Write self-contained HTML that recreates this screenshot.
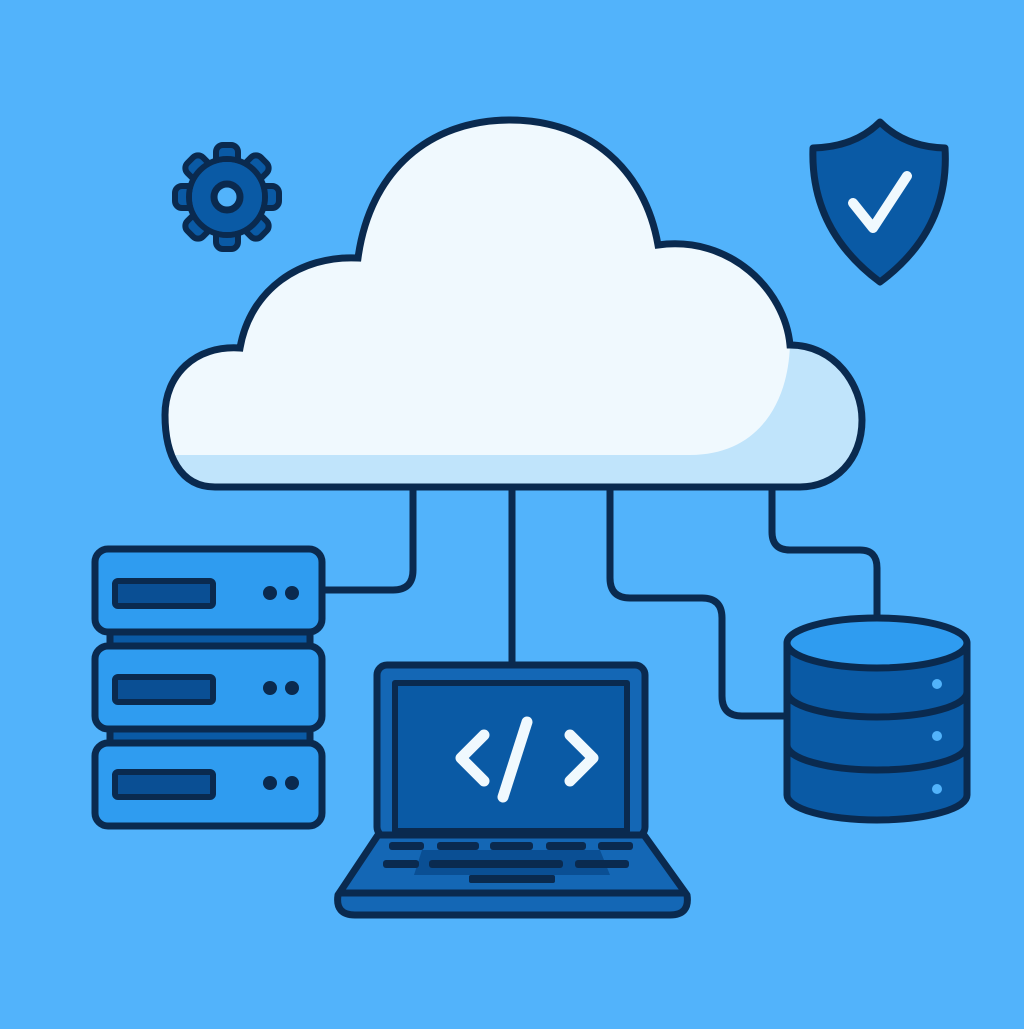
<!DOCTYPE html>
<html><head><meta charset="utf-8"><style>html,body{margin:0;padding:0;background:#52b3fb}</style></head>
<body>
<svg width="1024" height="1024" viewBox="0 0 1024 1024" xmlns="http://www.w3.org/2000/svg">
<rect width="1024" height="1024" fill="#52b3fb"/>
<defs>
<clipPath id="cc"><path id="cp" d="M215,487 C180,487 165,455 165,415 C165,375 195,345 240,348 C250,290 300,255 358,258 C370,170 430,120 510,120 C590,120 645,170 658,245 C730,235 785,290 790,345 C835,345 862,385 862,420 C862,460 835,487 800,487 Z"/></clipPath>
</defs>
<g fill="none" stroke="#0a2a4f" stroke-width="7" stroke-linecap="round" stroke-linejoin="round">
<path d="M413,487 V570 Q413,590 393,590 H322"/>
<path d="M512,487 V665"/>
<path d="M610,487 V578 Q610,598 630,598 H702 Q722,598 722,618 V696 Q722,716 742,716 H787"/>
<path d="M772,487 V532 Q772,550 790,550 H860 Q877,550 877,568 V615"/>
</g>
<g clip-path="url(#cc)">
<rect x="150" y="100" width="740" height="400" fill="#f0f9fe"/>
<rect x="150" y="455" width="740" height="40" fill="#c0e4fb"/>
<path d="M790,340 C790,400 760,455 690,455 L880,455 L880,340 Z" fill="#c0e4fb"/>
</g>
<use href="#cp" fill="none" stroke="#0a2a4f" stroke-width="7"/>
<!-- gear -->
<g transform="translate(227,197)" stroke="#0a2a4f" stroke-width="6" stroke-linejoin="round">
<g fill="#0a5aa5">
<rect x="-11" y="-52" width="22" height="24" rx="7"/>
<rect x="-11" y="-52" width="22" height="24" rx="7" transform="rotate(45)"/>
<rect x="-11" y="-52" width="22" height="24" rx="7" transform="rotate(90)"/>
<rect x="-11" y="-52" width="22" height="24" rx="7" transform="rotate(135)"/>
<rect x="-11" y="-52" width="22" height="24" rx="7" transform="rotate(180)"/>
<rect x="-11" y="-52" width="22" height="24" rx="7" transform="rotate(225)"/>
<rect x="-11" y="-52" width="22" height="24" rx="7" transform="rotate(270)"/>
<rect x="-11" y="-52" width="22" height="24" rx="7" transform="rotate(315)"/>
</g>
<circle r="38" fill="#0a5aa5"/>
</g>
<circle cx="227" cy="197" r="35" fill="#0a5aa5"/>
<circle cx="227" cy="197" r="13" fill="#52b3fb" stroke="#0a2a4f" stroke-width="7"/>
<!-- shield -->
<path d="M880,122 Q905,147 945,148 Q950,230 880,282 Q810,230 813,148 Q855,147 880,122 Z" fill="#0a5aa5" stroke="#0a2a4f" stroke-width="7" stroke-linejoin="round"/>
<path d="M853,203 L873,228 L907,176" fill="none" stroke="#f0f9fe" stroke-width="10" stroke-linecap="round" stroke-linejoin="round"/>
<!-- servers -->
<g stroke="#0a2a4f" stroke-width="7">
<rect x="110" y="628" width="200" height="22" fill="#0a5aa5"/>
<rect x="110" y="725" width="200" height="22" fill="#0a5aa5"/>
<g fill="#2f9cf0">
<rect x="95" y="549" width="227" height="83" rx="13"/>
<rect x="95" y="646" width="227" height="83" rx="13"/>
<rect x="95" y="743" width="227" height="83" rx="13"/>
</g>
<g fill="#0a4f94" stroke-width="6">
<rect x="115" y="581" width="98" height="25" rx="3"/>
<rect x="115" y="677" width="98" height="25" rx="3"/>
<rect x="115" y="772" width="98" height="25" rx="3"/>
</g>
</g>
<g fill="#0a2a4f">
<circle cx="270" cy="593" r="7"/><circle cx="292" cy="593" r="7"/>
<circle cx="270" cy="688" r="7"/><circle cx="292" cy="688" r="7"/>
<circle cx="270" cy="783" r="7"/><circle cx="292" cy="783" r="7"/>
</g>
<!-- laptop -->
<g stroke="#0a2a4f" stroke-width="7" stroke-linejoin="round">
<rect x="377" y="665" width="268" height="172" rx="10" fill="#1467b5"/>
<rect x="395" y="683" width="232" height="148" fill="#0a5aa5" stroke-width="6"/>
<path d="M378,835 H644 L687,895 Q690,915 670,915 H355 Q335,915 338,895 Z" fill="#1467b5"/>
<path d="M340,893 H686" fill="none"/>
</g>
<path d="M422,850 L600,850 L610,875 L414,875 Z" fill="#0a4f94"/>
<g fill="#0a2a4f">
<rect x="389" y="842" width="35" height="8" rx="3"/>
<rect x="437" y="842" width="42" height="8" rx="3"/>
<rect x="490" y="842" width="43" height="8" rx="3"/>
<rect x="546" y="842" width="40" height="8" rx="3"/>
<rect x="598" y="842" width="35" height="8" rx="3"/>
<rect x="383" y="860" width="36" height="8" rx="3"/>
<rect x="429" y="860" width="134" height="8" rx="3"/>
<rect x="575" y="860" width="54" height="8" rx="3"/>
<rect x="469" y="875" width="86" height="8" rx="2"/>
</g>
<g fill="none" stroke="#f0f9fe" stroke-width="11" stroke-linecap="round" stroke-linejoin="round">
<path d="M484,735 L461,758 L484,781"/>
<path d="M527,722 L503,797"/>
<path d="M570,735 L593,758 L570,781"/>
</g>
<!-- database -->
<g stroke="#0a2a4f" stroke-width="7" stroke-linejoin="round">
<path d="M787,643 V795 A90,25 0 0 0 967,795 V643 Z" fill="#0a5aa5"/>
<path d="M787,692 A90,25 0 0 0 967,692" fill="none"/>
<path d="M787,745 A90,25 0 0 0 967,745" fill="none"/>
<ellipse cx="877" cy="643" rx="90" ry="25" fill="#2f9cf0"/>
</g>
<g fill="#52b3fb">
<circle cx="937" cy="684" r="5"/><circle cx="937" cy="736" r="5"/><circle cx="937" cy="789" r="5"/>
</g>
</svg>
</body></html>
